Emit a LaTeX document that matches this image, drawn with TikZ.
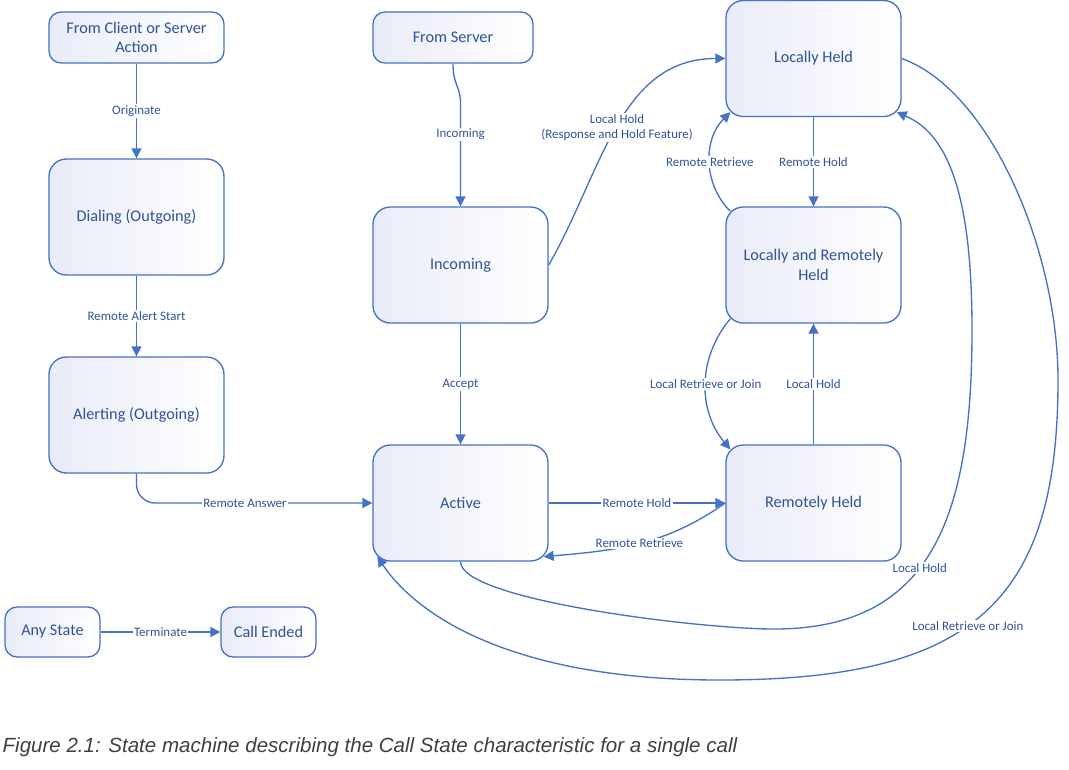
\documentclass[tikz,border=0pt]{standalone}
\usepackage{fontspec}
\setmainfont{Carlito}
\newfontfamily\captionfont{Liberation Sans}
\usetikzlibrary{arrows.meta}

\definecolor{lineblue}{RGB}{68,114,196}
\definecolor{textblue}{RGB}{47,84,150}
\definecolor{boxtint}{RGB}{233,235,248}
\definecolor{captiongray}{RGB}{64,64,64}

\begin{document}
\begin{tikzpicture}[x=0.75pt, y=-0.75pt, line width=1pt,
        callstate/.style={rectangle, rounded corners=13pt, draw=lineblue, left color=boxtint, right color=white, text=textblue, font=\fontsize{12.2}{14.6}\selectfont, align=center, minimum width=131.25pt, minimum height=87pt, inner sep=2pt},
        smallstate/.style={callstate, rounded corners=9pt, minimum height=38.25pt},
        trans/.style={draw=lineblue, -{Triangle[length=7.5pt,width=7.5pt]}},
        edgelbl/.style={fill=white, text=textblue, font=\fontsize{9.7}{11.6}\selectfont, inner sep=1pt, align=center}]
            \fill[white] (0,0) rectangle (1069,769);
            \useasboundingbox (0,0) rectangle (1069,769);

            % --- Nodes Placement ---
            \node[smallstate] (fromclient) at (136.5,37.5) {From Client or Server\\Action};
            \node[callstate] (dialing) at (136.5,217) {Dialing (Outgoing)};
            \node[callstate] (alerting) at (136.5,415) {Alerting (Outgoing)};

            \node[smallstate, minimum width=71.25pt, minimum height=37.5pt] (anystate) at (52.5,632) {Any State};
            \node[smallstate, minimum width=71.25pt, minimum height=37.5pt] (callended) at (268.5,632) {Call Ended};

            \node[smallstate, minimum width=120pt] (fromserver) at (453,37.5) {From Server};
            \node[callstate] (incoming) at (460.5,265) {Incoming};
            \node[callstate] (active) at (460.5,503) {Active};

            \node[callstate] (lheld) at (813.5,58.5) {Locally Held};
            \node[callstate] (lrheld) at (813.5,265) {Locally and Remotely\\Held};
            \node[callstate] (rheld) at (813.5,503) {Remotely Held};

            \node[anchor=west, inner sep=0pt, text=captiongray, font=\captionfont\itshape\fontsize{15.4}{18}\selectfont] (caption) at (2,747) {Figure 2.1: State machine describing the Call State characteristic for a single call};

            % --- Straight Connections ---
            \draw[trans] (fromclient) -- node[edgelbl] {Originate} (dialing);
            \draw[trans] (dialing) -- node[edgelbl] {Remote Alert Start} (alerting);
            \draw[trans] (incoming) -- node[edgelbl] {Accept} (active);
            \draw[trans] (active) -- node[edgelbl] {Remote Hold} (rheld);
            \draw[trans] (lheld) -- node[edgelbl] {Remote Hold} (lrheld);
            \draw[trans] (rheld) -- node[edgelbl] {Local Hold} (lrheld);
            \draw[trans] (anystate) -- node[edgelbl] {Terminate} (callended);

            % --- Curved Connections ---
            \draw[trans, rounded corners=14pt] (alerting.south) |- node[edgelbl, pos=0.73] {Remote Answer} (active.west);
            \draw[trans] (fromserver.south) .. controls +(0,22) and +(0,-18) .. +(7.5,40) -- node[edgelbl, pos=0.3] {Incoming} (incoming.north);
            \draw[trans] (incoming.east) to[out=60, in=180] node[edgelbl] {Local Hold\\(Response and Hold Feature)} (lheld.west);
            \draw[trans] ([shift={(5,5)}]lrheld.north west) to[bend left=45] node[edgelbl] {Remote Retrieve} ([shift={(5,-5)}]lheld.south west);
            \draw[trans] ([shift={(5,-5)}]lrheld.south west) to[bend right=40] node[edgelbl] {Local Retrieve or Join} ([shift={(5,5)}]rheld.north west);
            \draw[trans] (rheld.west) to[out=-145, in=5] node[edgelbl, pos=0.5] {Remote Retrieve} ([shift={(-5,-5)}]active.south east);

            % --- Long Way Round ---
            \draw[trans] (active.south) .. controls (460,600) and (700,629) .. (774,629)
                .. controls (930,629) and (972,520) .. (972,330) node[edgelbl, pos=0.44] {Local Hold}
                .. controls (972,200) and (950,135) .. ([shift={(-5,-5)}]lheld.south east);
            \draw[trans] (lheld.east) .. controls (990,90) and (1058,250) .. (1058,380)
                .. controls (1058,600) and (975,680) .. (720,680) node[edgelbl, pos=0.55] {Local Retrieve or Join}
                .. controls (520,680) and (420,620) .. ([shift={(5,-5)}]active.south west);
        \end{tikzpicture}
\end{document}
